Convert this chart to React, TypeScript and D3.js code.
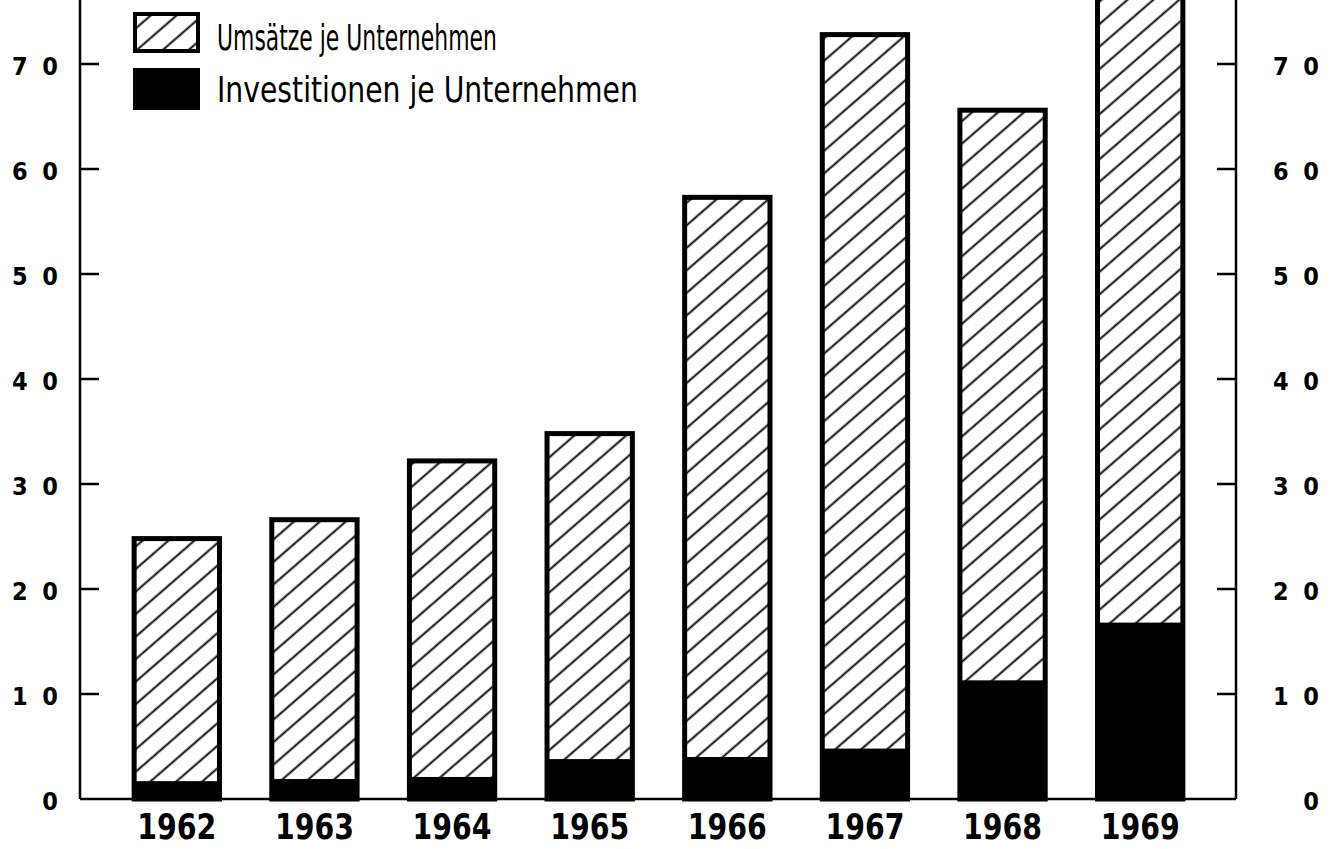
import { useEffect, useRef, useState } from "react";
import * as d3 from "d3";

const years = ["1962", "1963", "1964", "1965", "1966", "1967", "1968", "1969"];
const umsaetze = [24.8, 26.6, 32.2, 34.8, 57.3, 72.8, 65.6, 77];
const investitionen = [1.7, 1.9, 2.1, 3.8, 4.0, 4.8, 11.3, 16.8];
const yTicks = [0, 10, 20, 30, 40, 50, 60, 70];
const legendLabels = ["Umsätze je Unternehmen", "Investitionen je Unternehmen"];

const W = 1338;
const H = 849;
const axisLeft = 80;
const axisRight = 1236;
const tickLen = 19;
const FONT = "'DejaVu Sans Condensed', 'Liberation Sans Narrow', 'DejaVu Sans', sans-serif";

// text squeezed horizontally to a target width, keeping its height
function FitText({ x, y, width, size, children }: { x: number; y: number; width: number; size: number; children: string }) {
  const ref = useRef<SVGTextElement>(null);
  const [sx, setSx] = useState(1);
  useEffect(() => {
    if (ref.current) {
      const w = ref.current.getComputedTextLength();
      if (w > 0) setSx(width / w);
    }
  }, [width, children]);
  return (
    <text ref={ref} transform={`translate(${x},${y}) scale(${sx},1)`} fontFamily={FONT} fontSize={size}>
      {children}
    </text>
  );
}

export default function App() {
  const x = d3.scaleBand<string>()
    .domain(years)
    .range([108, 1209])
    .paddingInner(0.38)
    .paddingOuter(0.19);

  const y = d3.scaleLinear().domain([0, 70]).range([799, 64]);

  const tickLabel = (d: number) => (d === 0 ? "0" : String(d).split("").join(" "));

  return (
    <svg
      width={W}
      height={H}
      style={{ position: "absolute", left: 0, top: 0, background: "#fff" }}
    >
      <defs>
        <pattern
          id="hatch"
          patternUnits="userSpaceOnUse"
          width={17}
          height={17}
          patternTransform="rotate(-41)"
        >
          <line x1={0} y1={8.5} x2={17} y2={8.5} stroke="#000" strokeWidth={1.9} />
        </pattern>
      </defs>

      {/* bars */}
      {years.map((yr, i) => {
        const bx = x(yr)!;
        const bw = x.bandwidth();
        const top = y(umsaetze[i]);
        return (
          <g key={yr}>
            <rect x={bx} y={top} width={bw} height={y(0) - top} fill="url(#hatch)" />
            <rect
              x={bx}
              y={y(investitionen[i])}
              width={bw}
              height={y(0) - y(investitionen[i])}
              fill="#000"
            />
            <rect
              x={bx}
              y={top}
              width={bw}
              height={y(0) - top}
              fill="none"
              stroke="#000"
              strokeWidth={5}
            />
            <text
              x={bx + bw / 2}
              y={839}
              textAnchor="middle"
              fontFamily={FONT}
              fontWeight="bold"
              fontSize={36}
              textLength={79}
              lengthAdjust="spacingAndGlyphs"
            >
              {yr}
            </text>
          </g>
        );
      })}

      {/* axes */}
      <line x1={axisLeft} y1={0} x2={axisLeft} y2={y(0)} stroke="#000" strokeWidth={2.5} />
      <line x1={axisRight} y1={0} x2={axisRight} y2={y(0)} stroke="#000" strokeWidth={2.5} />
      <line x1={axisLeft} y1={y(0)} x2={axisRight} y2={y(0)} stroke="#000" strokeWidth={2.5} />

      {yTicks.map((t) => (
        <g key={t}>
          {t > 0 && (
            <>
              <line x1={axisLeft} y1={y(t)} x2={axisLeft + tickLen} y2={y(t)} stroke="#000" strokeWidth={2.5} />
              <line x1={axisRight - tickLen} y1={y(t)} x2={axisRight} y2={y(t)} stroke="#000" strokeWidth={2.5} />
            </>
          )}
          <text
            x={58}
            y={y(t) + 4}
            textAnchor="end"
            dominantBaseline="middle"
            fontFamily={FONT}
            fontWeight="bold"
            fontSize={25}
            style={{ whiteSpace: "pre" }}
            textLength={t === 0 ? undefined : 46}
            lengthAdjust="spacing"
          >
            {tickLabel(t)}
          </text>
          <text
            x={1319}
            y={y(t) + 4}
            textAnchor="end"
            dominantBaseline="middle"
            fontFamily={FONT}
            fontWeight="bold"
            fontSize={25}
            style={{ whiteSpace: "pre" }}
            textLength={t === 0 ? undefined : 46}
            lengthAdjust="spacing"
          >
            {tickLabel(t)}
          </text>
        </g>
      ))}

      {/* legend */}
      <rect x={135} y={14} width={63} height={37} fill="#fff" />
      <rect x={135} y={14} width={63} height={37} fill="url(#hatch)" stroke="#000" strokeWidth={4} />
      <rect x={133} y={68} width={67} height={42} fill="#000" />
      <FitText x={217} y={50} width={280} size={35}>{legendLabels[0]}</FitText>
      <FitText x={217} y={102} width={421} size={35}>{legendLabels[1]}</FitText>
    </svg>
  );
}
